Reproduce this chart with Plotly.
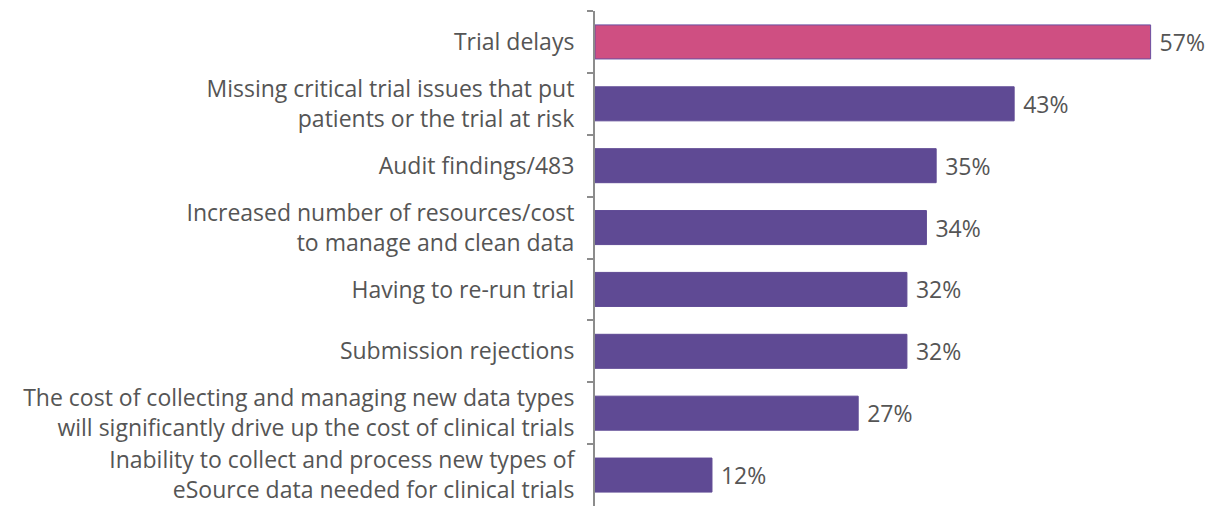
import plotly.graph_objects as go

categories = [
    "Trial delays",
    "Missing critical trial issues that put<br>patients or the trial at risk",
    "Audit findings/483",
    "Increased number of resources/cost<br>to manage and clean data",
    "Having to re-run trial",
    "Submission rejections",
    "The cost of collecting and managing new data types<br>will significantly drive up the cost of clinical trials",
    "Inability to collect and process new types of<br>eSource data needed for clinical trials",
]
values = [57, 43, 35, 34, 32, 32, 27, 12]
bar_colors = ["#CF4F82"] + ["#5F4A94"] * 7
line_colors = ["#6A4FA0"] + ["#5F4A94"] * 7

fig = go.Figure(go.Bar(
    x=values,
    y=categories,
    orientation="h",
    marker=dict(color=bar_colors, line=dict(color=line_colors, width=1)),
    texttemplate=" %{x}%",
    textposition="outside",
    textfont=dict(size=23, color="#555555", family="Open Sans"),
    cliponaxis=False,
    width=0.55,
))

fig.update_layout(
    width=1205, height=498,
    margin=dict(l=587, r=0, t=3, b=0),
    paper_bgcolor="white", plot_bgcolor="white",
    font=dict(family="Open Sans", size=23, color="#555555"),
    showlegend=False,
)
fig.update_xaxes(range=[0, 63.4], visible=False)
fig.update_yaxes(
    autorange="reversed",
    showline=True, linecolor="#8C8C8C", linewidth=2,
    ticks="outside", ticklen=6, tickcolor="#8C8C8C", tickwidth=2,
    tickson="boundaries",
    ticklabelstandoff=14,
    tickfont=dict(size=23, color="#555555"),
    showgrid=False,
)

fig.write_html("out.html")
